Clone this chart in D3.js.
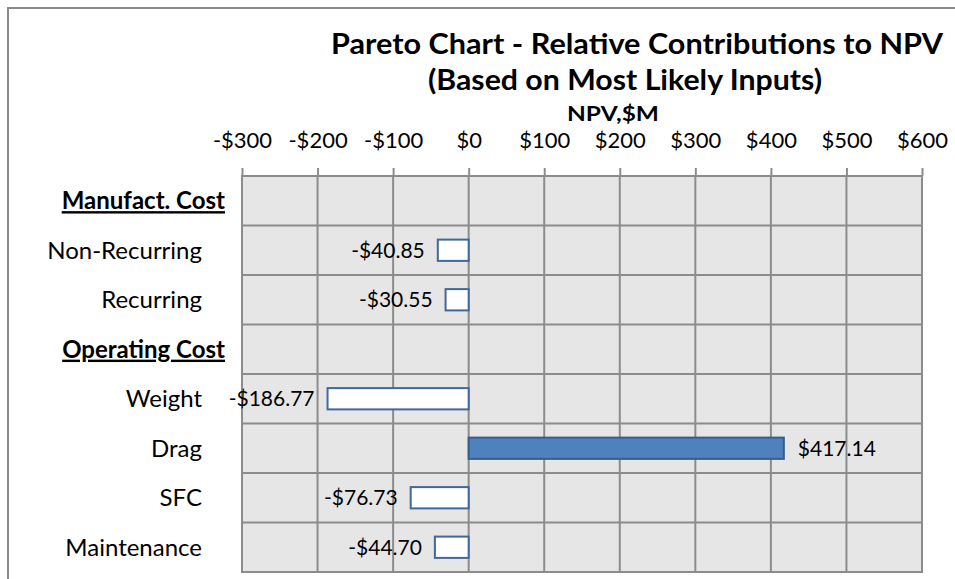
<!DOCTYPE html>
<html>
<head>
<meta charset="utf-8">
<script src="https://cdn.jsdelivr.net/npm/d3@7"></script>
<style>
  body { margin: 0; background: #fff; }
  text { font-family: Lato, "Open Sans", sans-serif; fill: #000; }
</style>
</head>
<body>
<svg id="chart"></svg>
<script>
// rows top to bottom; headers carry no value
const categories = ['Manufact. Cost', 'Non-Recurring', 'Recurring', 'Operating Cost',
                    'Weight', 'Drag', 'SFC', 'Maintenance'];
const headers = ['Manufact. Cost', 'Operating Cost'];
const npvValues = [null, -40.85, -30.55, null, -186.77, 417.14, -76.73, -44.70];
const tickValues = [-300, -200, -100, 0, 100, 200, 300, 400, 500, 600];

const width = 955, height = 579;
const plot = { left: 242, right: 922, top: 176, bottom: 572 };

const svg = d3.select('#chart')
    .attr('width', width)
    .attr('height', height);

// outer chart frame (runs past the picture on the right and bottom)
svg.append('rect')
    .attr('x', 8).attr('y', 8)
    .attr('width', 1000).attr('height', 1000)
    .style('fill', 'none')
    .style('stroke', '#8a8a8a')
    .style('stroke-width', 2);

const x = d3.scaleLinear()
    .domain([-300, 600])
    .range([plot.left, plot.right]);

const y = d3.scaleBand()
    .domain(categories)
    .range([plot.top, plot.bottom]);

const rows = categories.map((c, i) => ({ name: c, value: npvValues[i], header: headers.includes(c) }));

// plot background
svg.append('rect')
    .attr('x', plot.left).attr('y', plot.top)
    .attr('width', plot.right - plot.left)
    .attr('height', plot.bottom - plot.top)
    .style('fill', '#e6e6e6');

// grid
const grid = svg.append('g').attr('class', 'grid')
    .style('stroke', '#8c8c8c')
    .style('stroke-width', 2);

grid.selectAll('.vline')
    .data(tickValues)
    .enter()
    .append('line')
    .attr('x1', d => x(d)).attr('x2', d => x(d))
    .attr('y1', plot.top).attr('y2', plot.bottom);

const hLines = categories.map(c => y(c)).concat([plot.bottom]);
grid.selectAll('.hline')
    .data(hLines)
    .enter()
    .append('line')
    .attr('x1', plot.left - 1).attr('x2', plot.right + 1)
    .attr('y1', d => d).attr('y2', d => d);

// top axis
const fmtTick = v => (v < 0 ? '-$' : '$') + Math.abs(v);
const axis = svg.append('g')
    .attr('transform', `translate(0,${plot.top})`)
    .call(d3.axisTop(x)
        .tickValues(tickValues)
        .tickFormat(fmtTick)
        .tickSizeInner(8)
        .tickSizeOuter(0)
        .tickPadding(20));
axis.select('.domain').remove();
axis.selectAll('.tick line')
    .style('stroke', '#8c8c8c')
    .style('stroke-width', 2);
axis.selectAll('.tick text')
    .attr('dy', 0)
    .style('font-size', '22px')
    .style('font-family', 'Lato, sans-serif')
    .style('fill', '#000');

// bars
const barH = y.bandwidth() * 0.43;
const bars = rows.filter(d => d.value !== null);

svg.selectAll('.bar')
    .data(bars)
    .enter()
    .append('rect')
    .attr('class', 'bar')
    .attr('x', d => x(Math.min(0, d.value)))
    .attr('y', d => y(d.name) + (y.bandwidth() - barH) / 2)
    .attr('width', d => Math.abs(x(d.value) - x(0)))
    .attr('height', barH)
    .style('fill', d => d.value < 0 ? '#ffffff' : '#4f81bd')
    .style('stroke', d => d.value < 0 ? '#41679b' : '#385d8a')
    .style('stroke-width', 2);

// value labels
const fmtVal = v => (v < 0 ? '-$' : '$') + Math.abs(v).toFixed(2);
svg.selectAll('.val')
    .data(bars)
    .enter()
    .append('text')
    .attr('class', 'val')
    .attr('x', d => d.value < 0 ? x(d.value) - 13 : x(d.value) + 14)
    .attr('y', d => y(d.name) + y.bandwidth() / 2)
    .attr('dy', '0.35em')
    .attr('text-anchor', d => d.value < 0 ? 'end' : 'start')
    .style('font-size', '21px')
    .text(d => fmtVal(d.value));

// category labels
svg.selectAll('.cat')
    .data(rows)
    .enter()
    .append('text')
    .attr('class', 'cat')
    .attr('x', d => d.header ? 225 : 202)
    .attr('y', d => y(d.name) + y.bandwidth() / 2)
    .attr('dy', '0.35em')
    .attr('text-anchor', 'end')
    .style('font-size', '24px')
    .style('font-weight', d => d.header ? 'bold' : 'normal')
    .style('text-decoration', d => d.header ? 'underline' : 'none')
    .text(d => d.name);

// titles
svg.append('text')
    .attr('x', 331).attr('y', 54)
    .attr('textLength', 612)
    .attr('lengthAdjust', 'spacingAndGlyphs')
    .style('font-size', '29px')
    .style('font-weight', 'bold')
    .text('Pareto Chart - Relative Contributions to NPV');

svg.append('text')
    .attr('x', 428).attr('y', 90)
    .attr('textLength', 394)
    .attr('lengthAdjust', 'spacingAndGlyphs')
    .style('font-size', '29px')
    .style('font-weight', 'bold')
    .text('(Based on Most Likely Inputs)');

svg.append('text')
    .attr('x', 567).attr('y', 121)
    .attr('textLength', 92)
    .attr('lengthAdjust', 'spacingAndGlyphs')
    .style('font-size', '20px')
    .style('font-weight', 'bold')
    .text('NPV,$M');
</script>
</body>
</html>
